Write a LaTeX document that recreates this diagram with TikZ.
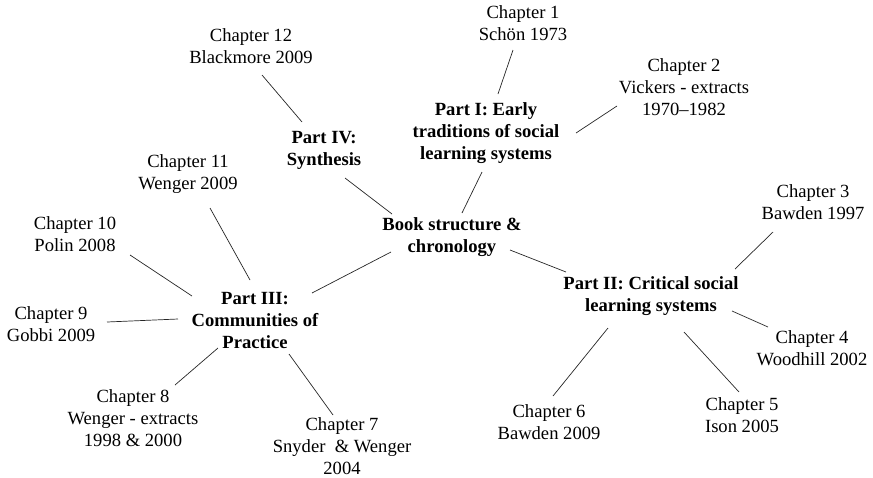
\documentclass[tikz,border=0pt]{standalone}
\usepackage{fontspec}
\setmainfont{Liberation Serif}
\newcommand{\mapfont}{\fontsize{18.6}{22}\selectfont}

\tikzset{
  chap/.style={align=center, font=\mapfont, inner sep=0pt},
  part/.style={align=center, font=\mapfont\bfseries, inner sep=0pt},
  link/.style={line width=0.7pt, black!85}
}

\begin{document}
\begin{tikzpicture}[x=1pt, y=-1pt]
        \useasboundingbox (0,0) rectangle (873,477);

        % centre and parts
        \node[part] (book) at (452,237) {Book structure \&\\chronology};
        \node[part] (p1) at (486,133) {Part I: Early\\traditions of social\\learning systems};
        \node[part] (p2) at (651,296) {Part II: Critical social\\learning systems};
        \node[part] (p3) at (255,320) {Part III:\\Communities of\\Practice};
        \node[part] (p4) at (324,150) {Part IV:\\Synthesis};

        % chapters
        \node[chap] (c1) at (523, 23) {Chapter 1\\Schön 1973};
        \node[chap] (c2) at (684, 87) {Chapter 2\\Vickers - extracts\\1970--1982};
        \node[chap] (c3) at (813,202) {Chapter 3\\Bawden 1997};
        \node[chap] (c4) at (812,348) {Chapter 4\\Woodhill 2002};
        \node[chap] (c5) at (742,415) {Chapter 5\\Ison 2005};
        \node[chap] (c6) at (549,422) {Chapter 6\\Bawden 2009};
        \node[chap] (c7) at (342,446) {Chapter 7\\Snyder\ \ \& Wenger\\2004};
        \node[chap] (c8) at (133,418) {Chapter 8\\Wenger - extracts\\1998 \& 2000};
        \node[chap] (c9) at ( 51,324) {Chapter 9\\Gobbi 2009};
        \node[chap] (c10) at ( 75,234) {Chapter 10\\Polin 2008};
        \node[chap] (c11) at (188,174) {Chapter 11\\Wenger 2009};
        \node[chap] (c12) at (251, 46) {Chapter 12\\Blackmore 2009};

        % centre to parts
        \draw[link] ([shift={(-60,-23)}]book.center) -- ([shift={( 21, 28)}]p4.center);
        \draw[link] ([shift={( 10,-24)}]book.center) -- ([shift={( -4, 39)}]p1.center);
        \draw[link] ([shift={( 58, 13)}]book.center) -- ([shift={(-85,-24)}]p2.center);
        \draw[link] ([shift={(-61, 15)}]book.center) -- ([shift={( 57,-27)}]p3.center);

        % part I
        \draw[link] ([shift={(-10, 27)}]c1.center) -- ([shift={( 12,-39)}]p1.center);
        \draw[link] ([shift={(-67, 19)}]c2.center) -- ([shift={( 90,  0)}]p1.center);

        % part II
        \draw[link] ([shift={(-40, 30)}]c3.center) -- ([shift={( 84,-27)}]p2.center);
        \draw[link] ([shift={(-44,-21)}]c4.center) -- ([shift={( 81, 15)}]p2.center);
        \draw[link] ([shift={( -3,-23)}]c5.center) -- ([shift={( 33, 36)}]p2.center);
        \draw[link] ([shift={(  4,-26)}]c6.center) -- ([shift={(-43, 32)}]p2.center);

        % part III
        \draw[link] ([shift={( -9,-31)}]c7.center) -- ([shift={( 34, 34)}]p3.center);
        \draw[link] ([shift={( 42,-33)}]c8.center) -- ([shift={(-37, 28)}]p3.center);
        \draw[link] ([shift={( 56, -2)}]c9.center) -- ([shift={(-77, -1)}]p3.center);
        \draw[link] ([shift={( 55, 21)}]c10.center) -- ([shift={(-63,-24)}]p3.center);
        \draw[link] ([shift={( 22, 34)}]c11.center) -- ([shift={( -5,-40)}]p3.center);

        % part IV
        \draw[link] ([shift={( 11, 29)}]c12.center) -- ([shift={(-22,-28)}]p4.center);
\end{tikzpicture}
\end{document}
